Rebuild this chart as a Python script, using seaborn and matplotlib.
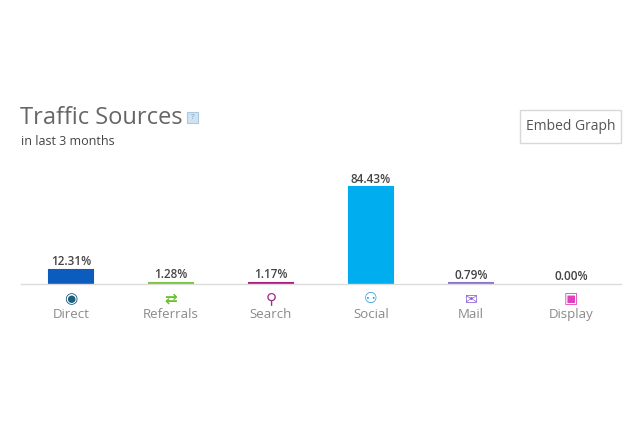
import matplotlib
matplotlib.use("Agg")
import matplotlib.pyplot as plt
import seaborn as sns
import pandas as pd
from matplotlib.patches import FancyBboxPatch

# Data
sources = ["Direct", "Referrals", "Search", "Social", "Mail", "Display"]
shares = [12.31, 1.28, 1.17, 84.43, 0.79, 0.00]
bar_colors = ["#0b5cbd", "#7cc33d", "#a5207d", "#00aeef", "#8a73c9", "#e23fbd"]
icons = ["◉", "⇄", "⚲", "⚇", "✉", "▣"]
icon_colors = ["#1b5f80", "#6cc12a", "#a02a8c", "#1d8fd6", "#8c63d8", "#e23fbd"]

df = pd.DataFrame({"source": sources, "share": shares})

sns.set_style("white")
plt.rcParams["font.family"] = ["Open Sans", "DejaVu Sans"]

fig = plt.figure(figsize=(6.4, 4.26), dpi=100)
# plot area: x 21..621 px, baseline at y=284 px
ax = fig.add_axes([21 / 640, (426 - 284) / 426, 600 / 640, 0.30])

sns.barplot(data=df, x="source", y="share", hue="source", palette=bar_colors,
            width=0.44, legend=False, ax=ax, saturation=1)
# thin bars get a same-colour edge so they show as a line like the original
for p in ax.patches:
    p.set_edgecolor(p.get_facecolor())
    p.set_linewidth(1.5 if p.get_height() > 0 else 0)

# scale so that 84.43% is ~97 px tall
ax_h_px = 0.30 * 426
ax.set_ylim(0, max(shares) * ax_h_px / 97)
ax.set_xlim(-0.5, len(sources) - 0.5)

for i, v in enumerate(shares):
    ax.text(i, v + 1.2, f"{v:.2f}%", ha="center", va="bottom", fontsize=8.5,
            fontweight="semibold", color="#444444")

ax.set_xticks(range(len(sources)))
ax.set_xticklabels(sources, fontsize=9.5, color="#8a8a8a")
ax.tick_params(axis="x", length=0, pad=17)
ax.set_yticks([])
ax.set_xlabel("")
ax.set_ylabel("")
sns.despine(ax=ax, left=True, top=True, right=True)
ax.spines["bottom"].set_color("#dcdcdc")
ax.spines["bottom"].set_linewidth(1)

# icons under each bar
for i, (ic, c) in enumerate(zip(icons, icon_colors)):
    ax.annotate(ic, xy=(i, 0), xytext=(0, -10.5), textcoords="offset points",
                ha="center", va="center", fontsize=11, color=c,
                family="DejaVu Sans", fontweight="bold", annotation_clip=False)

# titles
fig.text(20 / 640, 1 - 118 / 426, "Traffic Sources", fontsize=17, color="#666666",
         ha="left", va="center")
fig.text(21 / 640, 1 - 142 / 426, "in last 3 months", fontsize=9, color="#444444",
         ha="left", va="center")
help_box = FancyBboxPatch((187 / 640, 1 - 123 / 426), 11 / 640, 11 / 426,
                          boxstyle="square,pad=0", transform=fig.transFigure,
                          facecolor="#cfe3f2", edgecolor="#a9c8e2", linewidth=0.8)
fig.patches.append(help_box)
fig.text(192.5 / 640, 1 - 117.5 / 426, "?", fontsize=6, color="#7aa0c0",
         ha="center", va="center")

# embed button
embed_box = FancyBboxPatch((520 / 640, 1 - 143 / 426), 101 / 640, 33 / 426,
                           boxstyle="square,pad=0", transform=fig.transFigure,
                           facecolor="white", edgecolor="#d8d8d8", linewidth=1)
fig.patches.append(embed_box)
fig.text(570.5 / 640, 1 - 127 / 426, "Embed Graph", fontsize=10, color="#555555",
         ha="center", va="center")

fig.savefig("out.png", dpi=100)
